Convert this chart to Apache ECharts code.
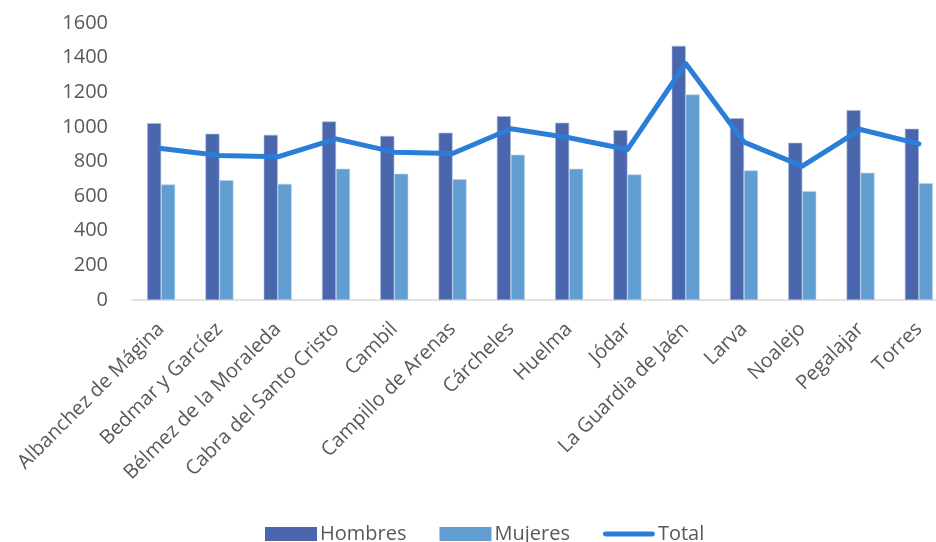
<!DOCTYPE html>
<html><head><meta charset="utf-8">
<script src="https://cdn.jsdelivr.net/npm/echarts@6/dist/echarts.min.js"></script>
<style>html,body{margin:0;padding:0;background:#fff}#c{width:936px;height:542px}</style>
</head><body><div id="c"></div>
<script>
const categories = ["Albanchez de Mágina","Bedmar y Garcíez","Bélmez de la Moraleda","Cabra del Santo Cristo","Cambil","Campillo de Arenas","Cárcheles","Huelma","Jódar","La Guardia de Jaén","Larva","Noalejo","Pegalajar","Torres"];
const hombres = [1021, 960, 954, 1031, 948, 966, 1062, 1024, 981, 1468, 1050, 908, 1097, 989];
const mujeres = [667, 692, 671, 758, 729, 698, 839, 758, 725, 1187, 748, 629, 735, 675];
const total = [875, 835, 827, 931, 854, 846, 989, 937, 869, 1366, 912, 773, 985, 902];
const yTicks = [0, 200, 400, 600, 800, 1000, 1200, 1400, 1600];

const font = "'Open Sans', sans-serif";
const chart = echarts.init(document.getElementById('c'));
chart.setOption({
  animation: false,
  textStyle: {fontFamily: font},
  grid: {left: 132, width: 816, top: 23, bottom: 242, outerBoundsMode: 'none', containLabel: false},
  legend: {
    bottom: -7, left: 260, itemGap: 33, itemWidth: 52, itemHeight: 14,
    itemStyle: {borderWidth: 0},
    textStyle: {fontFamily: font, fontSize: 20, color: '#595959', padding: [0, 0, 0, -2]},
    data: [
      {name: 'Hombres', icon: 'rect'},
      {name: 'Mujeres', icon: 'rect'},
      {name: 'Total', icon: 'path://M2,0 L50,0 A2.5,2.5 0 0 1 50,5 L2,5 A2.5,2.5 0 0 1 2,0 Z'}
    ]
  },
  xAxis: {
    type: 'category', data: categories,
    axisLine: {lineStyle: {color: '#d9d9d9', width: 1.5}},
    axisTick: {show: false},
    axisLabel: {rotate: 45, interval: 0, fontFamily: font, fontSize: 20, color: '#595959', margin: 26}
  },
  yAxis: {
    type: 'value', min: yTicks[0], max: yTicks[yTicks.length - 1], interval: 200,
    splitLine: {show: false}, axisLine: {show: false}, axisTick: {show: false},
    axisLabel: {fontFamily: font, fontSize: 20, color: '#595959', margin: 24, formatter: v => String(v)}
  },
  series: [
    {name: 'Hombres', type: 'bar', data: hombres, barGap: '0%', barCategoryGap: '52%',
     itemStyle: {color: '#4a66ac', borderColor: '#a9b8dc', borderWidth: 0.6}},
    {name: 'Mujeres', type: 'bar', data: mujeres,
     itemStyle: {color: '#629dd1', borderColor: '#b7d3ee', borderWidth: 0.6}},
    {name: 'Total', type: 'line', data: total, symbol: 'none',
     lineStyle: {color: '#2a7ed8', width: 5, cap: 'round', join: 'round'},
     itemStyle: {color: '#2a7ed8'}}
  ]
});
</script></body></html>
